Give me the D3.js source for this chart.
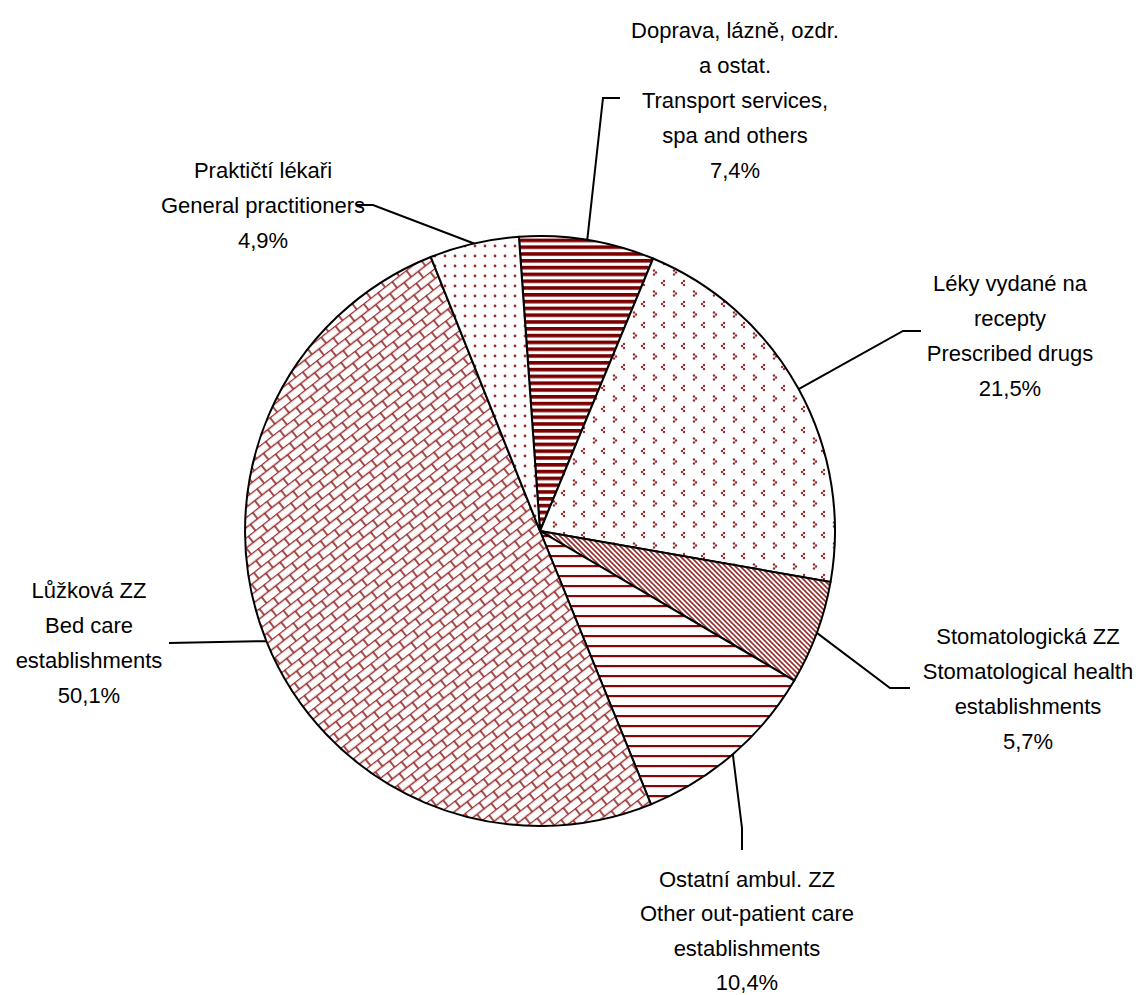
<!DOCTYPE html>
<html><head><meta charset="utf-8">
<script src="https://cdn.jsdelivr.net/npm/d3@7"></script>
<style>
html,body{margin:0;padding:0;background:#fff;}
text{font-family:"Liberation Sans",Arial,sans-serif;font-size:22px;fill:#000;}
</style></head>
<body>
<svg id="chart" width="1136" height="995"></svg>
<script>
const categoriesCz = ["Doprava, lázně, ozdr.|a ostat.", "Léky vydané na|recepty", "Stomatologická ZZ", "Ostatní ambul. ZZ", "Lůžková ZZ", "Praktičtí lékaři"];
const categoriesEn = ["Transport services,|spa and others", "Prescribed drugs", "Stomatological health|establishments", "Other out-patient care|establishments", "Bed care|establishments", "General practitioners"];
const values = [7.4, 21.5, 5.7, 10.4, 50.1, 4.9];
const valueLabels = ["7,4%", "21,5%", "5,7%", "10,4%", "50,1%", "4,9%"];
const patternIds = ["pStripeThick", "pChevron", "pDiag", "pStripeThin", "pBrick", "pDots"];

const RED = "#850808";
const svg = d3.select("#chart");
const defs = svg.append("defs");

// thick horizontal stripes
let p = defs.append("pattern").attr("id","pStripeThick").attr("patternUnits","userSpaceOnUse").attr("width",10).attr("height",6.8);
p.append("rect").attr("width",10).attr("height",6.8).attr("fill","#fff");
p.append("rect").attr("y",0).attr("width",10).attr("height",3.6).attr("fill","#7a0000");
// thin horizontal stripes
p = defs.append("pattern").attr("id","pStripeThin").attr("patternUnits","userSpaceOnUse").attr("width",10).attr("height",10);
p.append("rect").attr("width",10).attr("height",10).attr("fill","#fff");
p.append("rect").attr("y",4).attr("width",10).attr("height",2.2).attr("fill",RED);
// diagonal lines "\"
p = defs.append("pattern").attr("id","pDiag").attr("patternUnits","userSpaceOnUse").attr("width",5).attr("height",5);
p.append("rect").attr("width",5).attr("height",5).attr("fill","#fff");
p.append("path").attr("d","M-1,-1L6,6M-1,4L1,6M4,-1L6,1").attr("stroke",RED).attr("stroke-width",1.6).attr("stroke-opacity",0.85);
// dots grid
p = defs.append("pattern").attr("id","pDots").attr("patternUnits","userSpaceOnUse").attr("width",10).attr("height",10);
p.append("rect").attr("width",10).attr("height",10).attr("fill","#fff");
p.append("circle").attr("cx",5).attr("cy",5).attr("r",1.4).attr("fill",RED).attr("fill-opacity",0.85);
// chevron dots
p = defs.append("pattern").attr("id","pChevron").attr("patternUnits","userSpaceOnUse").attr("width",20).attr("height",21);
p.append("rect").attr("width",20).attr("height",21).attr("fill","#fff");
[[4,4,1],[14,14.5,-1]].forEach(([x,y,s])=>{
  [[0,-2],[s*-2,0],[0,2]].forEach(([dx,dy])=>p.append("circle").attr("cx",x+dx).attr("cy",y+dy).attr("r",1.2).attr("fill",RED).attr("fill-opacity",0.85));
});
// brick (diagonal)
p = defs.append("pattern").attr("id","pBrick").attr("patternUnits","userSpaceOnUse").attr("width",18).attr("height",16).attr("patternTransform","rotate(-38)");
p.append("rect").attr("width",18).attr("height",16).attr("fill","#fff");
p.append("path").attr("d","M0,0.5H18M0,8.5H18M1,0.5V8.5M10,8.5V16.5").attr("stroke",RED).attr("stroke-width",1.7).attr("stroke-opacity",0.85).attr("fill","none");

const cx = 540, cy = 531, R = 295;
const start = -4.1 * Math.PI / 180;
const pie = d3.pie().sort(null).value(d=>d).startAngle(start).endAngle(start + 2*Math.PI);
const arcs = pie(values);
const arc = d3.arc().innerRadius(0).outerRadius(R);
const g = svg.append("g").attr("transform",`translate(${cx},${cy})`);
g.selectAll("path.slice").data(arcs).join("path").attr("class","slice")
  .attr("d",arc).attr("fill",(d,i)=>`url(#${patternIds[i]})`)
  .attr("stroke","#000").attr("stroke-width",2).attr("stroke-linejoin","round");

// label layout: text centre x, first line centre y, line spacing, leader elbow points (absolute)
const labelLayout = [
  {x:735, y:30,  h:35,   leader:[[603,98],[620,98]]},
  {x:1010,y:283, h:35,   leader:[[903,331],[921,331]]},
  {x:1028,y:636, h:35,   leader:[[890,688],[910,688]]},
  {x:747, y:879, h:34.5, leader:[[742,828],[742,850]]},
  {x:89,  y:590, h:35,   leader:[[169,643]]},
  {x:263, y:170, h:35,   leader:[[373,205],[356,205]]}
];
arcs.forEach((a,i)=>{
  const mid = (a.startAngle + a.endAngle)/2;
  const px = cx + R*Math.sin(mid), py = cy - R*Math.cos(mid);
  const L = labelLayout[i];
  const pts = [[px,py], ...L.leader];
  svg.append("path").attr("d", d3.line()(pts)).attr("fill","none").attr("stroke","#000").attr("stroke-width",2);
  const lines = [...categoriesCz[i].split("|"), ...categoriesEn[i].split("|"), valueLabels[i]];
  const t = svg.append("text").attr("text-anchor","middle");
  lines.forEach((s,k)=>t.append("tspan").attr("x",L.x).attr("y",L.y + k*L.h).attr("dy","0.35em").text(s));
});
</script>
</body></html>
